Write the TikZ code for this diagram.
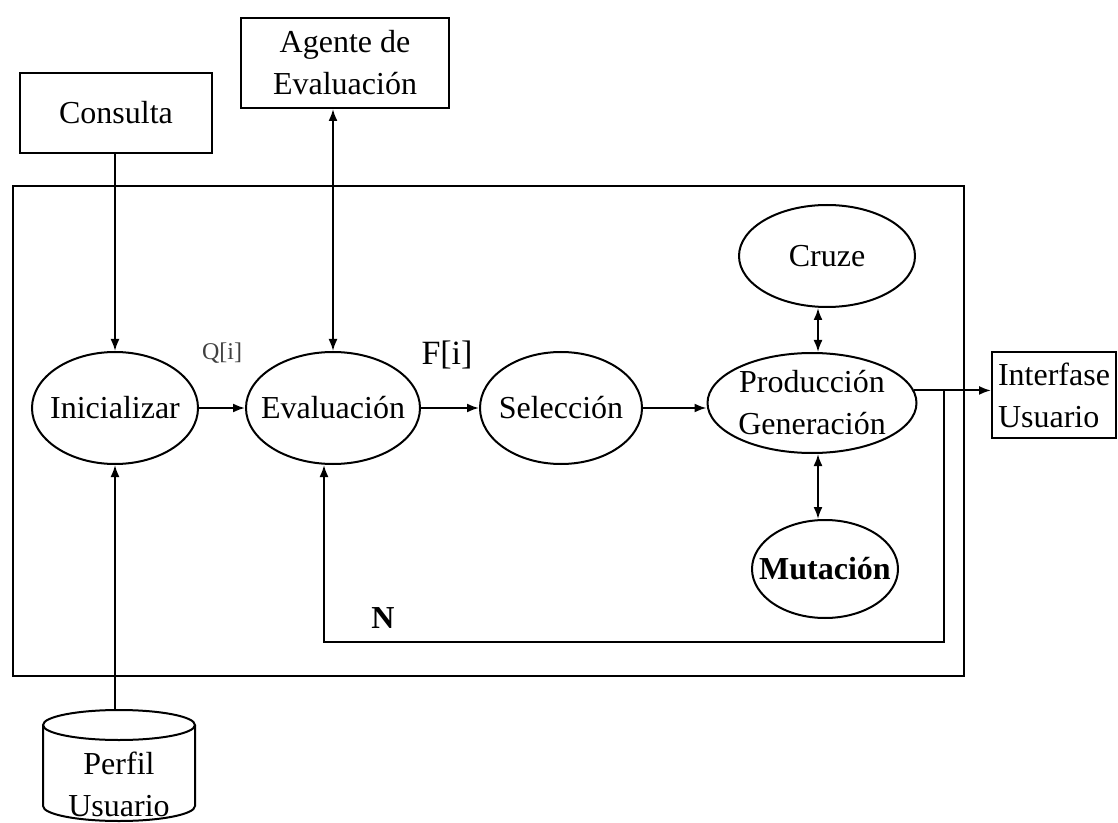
\documentclass[tikz,border=0pt]{standalone}
\usepackage{fontspec}
\setmainfont{Liberation Serif}
\usetikzlibrary{arrows.meta,shapes.geometric}

\begin{document}
\begin{tikzpicture}[x=0.5pt,y=-0.5pt,
  line width=1pt,
  every node/.style={font=\fontsize{16}{21}\selectfont, text=black},
  box/.style={draw, rectangle, inner sep=0pt, align=center},
  oval/.style={draw, ellipse, inner sep=0pt},
  lbl/.style={align=center, inner sep=0pt},
  tip/.style={-{Latex[length=6pt,width=4.5pt]}},
  dtip/.style={{Latex[length=6pt,width=4.5pt]}-{Latex[length=6pt,width=4.5pt]}}]
\useasboundingbox (0,0) rectangle (1118,823);
\clip (0,0) rectangle (1118,823);

% outer frame of the process
\draw[line width=1.3pt] (13,186) rectangle (964,676);

% external boxes
\node[box, minimum width=96pt, minimum height=40pt] (consulta) at (116,113) {Consulta};
\node[box, minimum width=104pt, minimum height=45pt] (agente) at (345,63) {Agente de\\Evaluación};
\node[box, minimum width=62pt, minimum height=43pt, align=left] (iface) at (1054,395) {Interfase\\Usuario};

% process ellipses
\node[oval, minimum width=83pt, minimum height=56pt] (inic) at (115,408) {};
\node[lbl] (inicT) at (inic) {Inicializar};
\node[oval, minimum width=87pt, minimum height=56pt] (eval) at (333,408) {};
\node[lbl] (evalT) at (eval) {Evaluación};
\node[oval, minimum width=81pt, minimum height=56pt] (sel) at (561,408) {};
\node[lbl] (selT) at (sel) {Selección};
\node[oval, minimum width=104.5pt, minimum height=50pt] (prod) at (812,403) {};
\node[lbl] (prodT) at (prod) {Producción\\Generación};
\node[oval, minimum width=88pt, minimum height=51pt] (cruze) at (827,256) {};
\node[lbl] (cruzeT) at (cruze) {Cruze};
\node[oval, minimum width=73pt, minimum height=49pt] (mut) at (825,569) {};
\node[lbl] (mutT) at (mut) {\textbf{Mutación}};

% user profile store
\coordinate (perfilTop) at (119,710);
\draw (119,725) ellipse[x radius=38pt, y radius=7.5pt];
\draw (43,725) -- (43,806) arc[start angle=180, end angle=360, x radius=38pt, y radius=7.5pt] -- (195,725);
\node[lbl] (perfilT) at (119,784) {Perfil\\Usuario};

% labels
\node[font=\fontsize{12}{12}\selectfont, text=black!75] (qlab) at (222,353) {Q[i]};
\node[font=\fontsize{17}{17}\selectfont] (flab) at (447,355) {F[i]};
\node[font=\bfseries\fontsize{16}{16}\selectfont] (nlab) at (383,618) {N};

% connectors
\draw[tip] (consulta.south -| inic.north) -- (inic.north);
\draw[dtip] (eval.north |- agente.south) -- (eval.north);
\draw[tip] (perfilTop -| inic.south) -- (inic.south);
\draw[tip] (inic.east) -- (eval.west);
\draw[tip] (eval.east) -- (sel.west);
\draw[tip] (sel.east) -- (sel.east -| prod.west);
\draw[dtip] (prod.north -| 818,0) -- (cruze.south -| 818,0);
\draw[dtip] (prod.south -| 818,0) -- (mut.north -| 818,0);
\draw[tip] (prod.7) -- (prod.7 -| iface.west);

% feedback loop back to the evaluation step
\coordinate (loopR) at (944,642);
\coordinate (loopL) at (324,642);
\draw[tip] (prod.7 -| loopR) -- (loopR) -- (loopL) -- (loopL |- eval.south);
\end{tikzpicture}
\end{document}
